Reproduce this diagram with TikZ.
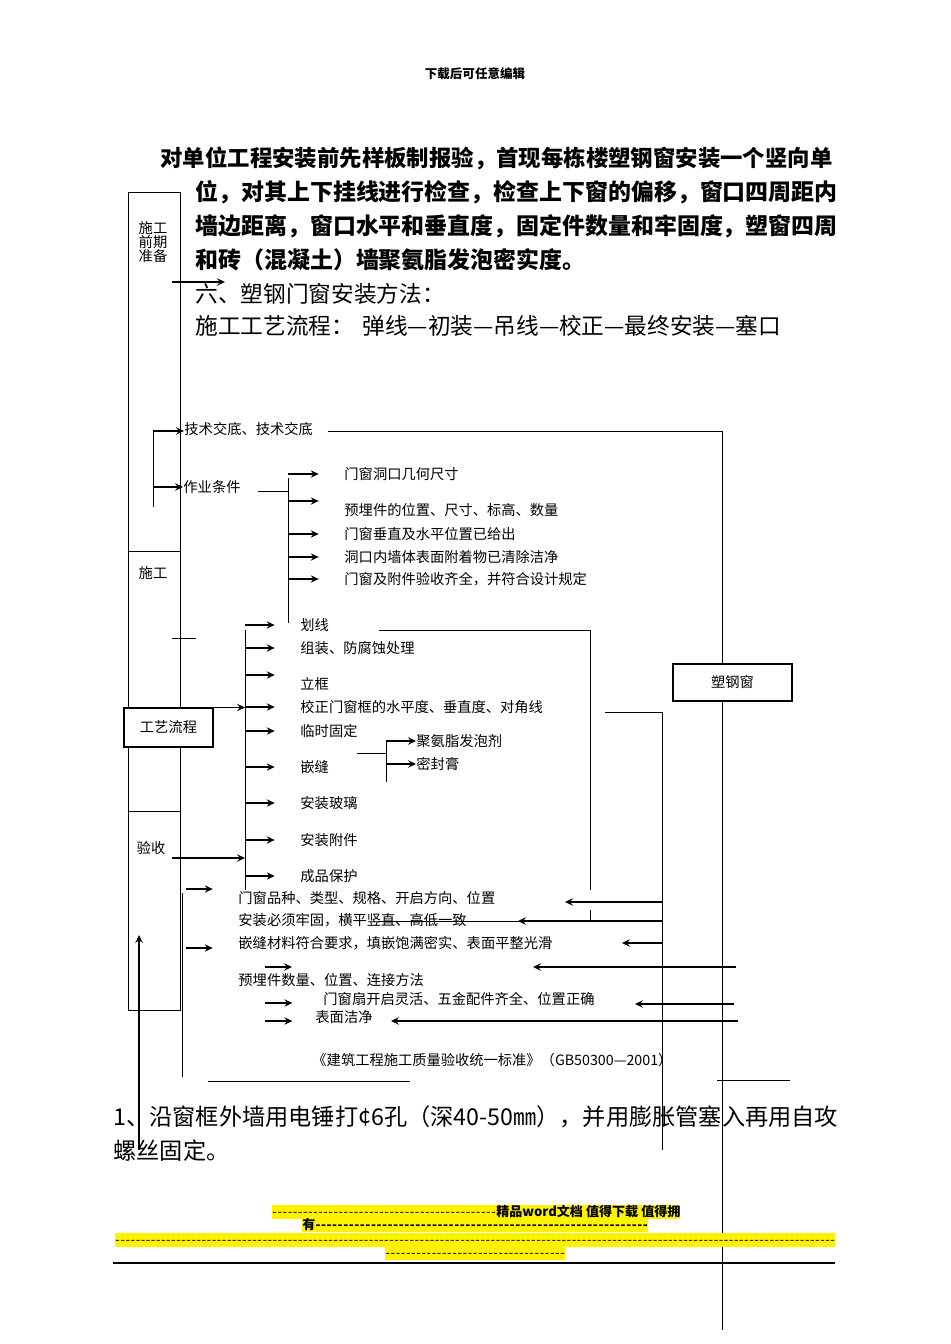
\documentclass[tikz,border=0pt]{standalone}
\usepackage{fontspec}
\usepackage{tikz}
\usetikzlibrary{arrows.meta}
\newfontfamily\cjk{Noto Sans CJK SC}
\newcommand{\dashfill}{\xleaders\hbox{-\kern0.4pt}\hfill}

\begin{document}
\begin{tikzpicture}[
  x=0.75pt, y=-0.75pt, line width=0.7pt,
  arr/.style={-{Stealth[length=6pt,width=5.6pt,inset=2.2pt]}, line width=0.8pt},
  gaparr/.style={arr, shorten >=19pt},
  lbl/.style={anchor=west, inner sep=0pt, font=\cjk\fontsize{10.7}{12}\selectfont},
  body/.style={anchor=west, inner sep=0pt, font=\cjk\fontsize{17}{20}\selectfont},
  bodybf/.style={body, font=\cjk\bfseries\fontsize{17}{20}\selectfont},
  stagebox/.style={draw, fill=white, line width=0.8pt, inner sep=0pt, font=\cjk\fontsize{10.7}{12}\selectfont},
  hilite/.style={anchor=west, fill=yellow, inner sep=0pt, minimum height=10.4pt, text height=7.6pt, text depth=1.6pt, font=\cjk\fontsize{9.8}{10}\selectfont}
]
\useasboundingbox (0,0) rectangle (950,1344);

% Page header and running text
\node[font=\cjk\bfseries\fontsize{9.4}{11}\selectfont] (hdr) at (475,74) {下载后可任意编辑};
\node[bodybf, font=\cjk\bfseries\fontsize{16.8}{20}\selectfont] (p1) at (160,158) {对单位工程安装前先样板制报验，首现每栋楼塑钢窗安装一个竖向单};
\node[bodybf, font=\cjk\bfseries\fontsize{17.2}{20}\selectfont] (p2) at (195,192) {位，对其上下挂线进行检查，检查上下窗的偏移，窗口四周距内};
\node[bodybf, font=\cjk\bfseries\fontsize{17.2}{20}\selectfont] (p3) at (195,226) {墙边距离，窗口水平和垂直度，固定件数量和牢固度，塑窗四周};
\node[bodybf, font=\cjk\bfseries\fontsize{17.2}{20}\selectfont] (p4) at (195,260) {和砖（混凝土）墙聚氨脂发泡密实度。};
\node[body] (p5) at (195,294) {六、塑钢门窗安装方法：};
\node[body] (p6) at (195,326) {施工工艺流程：};
\node[body] (p6b) at (362,326) {弹线—初装—吊线—校正—最终安装—塞口};

% Stage column
\draw (128,192) rectangle (180,1010);
\draw (128,551) -- (180,551);
\draw (128,811) -- (180,811);
\node[lbl, anchor=center, align=center, font=\cjk\fontsize{10.7}{10.5}\selectfont] (prep) at (153,242) {施工\\前期\\准备};
\node[lbl, anchor=center] (build) at (153,573) {施工};
\node[lbl, anchor=center] (check) at (151,848) {验收};
\node[stagebox, minimum width=66.75pt, minimum height=29.25pt] (flow) at (168.5,727.5) {工艺流程};

\coordinate (six-tail) at (172,282);
\draw[arr] (six-tail) -- (225,282);
\draw (172,638) -- (196,638);

% Preparation
\node[lbl] (jishu) at (184,429) {技术交底、技术交底};
\node[lbl] (zuoye) at (183,487) {作业条件};
\coordinate (prep-top) at (153,431);
\coordinate (prep-bot) at (153,507);
\draw (prep-top) -- (prep-bot);
\draw[arr] (prep-top) -- (prep-top -| jishu.west);
\draw[arr] (prep-top |- zuoye.west) -- (zuoye.west);

\node[lbl] (c1) at (344,474) {门窗洞口几何尺寸};
\node[lbl] (c2) at (344,510) {预埋件的位置、尺寸、标高、数量};
\node[lbl] (c3) at (344,534) {门窗垂直及水平位置已给出};
\node[lbl] (c4) at (344,557) {洞口内墙体表面附着物已清除洁净};
\node[lbl] (c5) at (344,579) {门窗及附件验收齐全，并符合设计规定};
\coordinate (cond-top) at (288,478);
\coordinate (cond-mid) at (288,491);
\coordinate (cond-bot) at (288,623);
\draw[shorten <=13pt] (zuoye.east |- cond-mid) -- (cond-mid);
\draw (cond-top) -- (cond-bot);
\draw[gaparr] (cond-top |- c1.west) -- (c1.west);
\coordinate (c2-tail) at (288,501);
\draw[gaparr] (c2-tail) -- (c2-tail -| c2.west);
\draw[gaparr] (cond-top |- c3.west) -- (c3.west);
\draw[gaparr] (cond-top |- c4.west) -- (c4.west);
\draw[gaparr] (cond-top |- c5.west) -- (c5.west);

% Process steps
\node[lbl] (s1) at (300,625) {划线};
\node[lbl] (s2) at (300,648) {组装、防腐蚀处理};
\node[lbl] (s3) at (300,684) {立框};
\node[lbl] (s4) at (300,707) {校正门窗框的水平度、垂直度、对角线};
\node[lbl] (s5) at (300,731) {临时固定};
\node[lbl] (s6) at (300,767) {嵌缝};
\node[lbl] (s7) at (300,803) {安装玻璃};
\node[lbl] (s8) at (300,840) {安装附件};
\node[lbl] (s9) at (300,876) {成品保护};
\node[lbl] (foam) at (416,741) {聚氨脂发泡剂};
\node[lbl] (seal) at (416,764) {密封膏};
\coordinate (work-top) at (245,630);
\coordinate (work-bot) at (245,890);
\draw (work-top) -- (work-bot);
\draw[gaparr] (work-top |- s1.west) -- (s1.west);
\draw[gaparr] (work-top |- s2.west) -- (s2.west);
\coordinate (s3-tail) at (245,675);
\draw[gaparr] (s3-tail) -- (s3-tail -| s3.west);
\draw[gaparr] (work-top |- s4.west) -- (s4.west);
\draw[gaparr] (work-top |- s5.west) -- (s5.west);
\draw[gaparr] (work-top |- s6.west) -- (s6.west);
\draw[gaparr] (work-top |- s7.west) -- (s7.west);
\draw[gaparr] (work-top |- s8.west) -- (s8.west);
\draw[gaparr] (work-top |- s9.west) -- (s9.west);
\draw[arr] (flow.north east) -- (flow.north east -| work-top);
\coordinate (check-tail) at (172,858);
\draw[arr] (check-tail) -- (check-tail -| work-top);

\coordinate (seam-top) at (386,742);
\coordinate (seam-mid) at (386,753);
\coordinate (seam-bot) at (386,782);
\draw[shorten <=21pt] (s6.east |- seam-mid) -- (seam-mid);
\draw (seam-top) -- (seam-bot);
\draw[arr] (seam-top |- foam.west) -- (foam.west);
\draw[arr] (seam-top |- seal.west) -- (seal.west);

\coordinate (mark-top) at (590,630);
\coordinate (mark-bot) at (590,890);
\draw[shorten <=37pt] (s1.east |- mark-top) -- (mark-top) -- (mark-bot);
\draw (590,910) -- (590,921) -- (378,921);

% Window and rails
\node[stagebox, minimum width=89.25pt, minimum height=27.75pt] (sgw) at (732.5,682.5) {塑钢窗};
\coordinate (rail-top) at (722,431);
\coordinate (rail-bot) at (722,1330);
\draw[shorten <=11pt] (jishu.east |- rail-top) -- (rail-top) -- (sgw.north -| rail-top);
\draw (sgw.south -| rail-top) -- (rail-bot);
\draw (717,1080) -- (790,1080);

% Acceptance
\node[lbl] (a1) at (238,898) {门窗品种、类型、规格、开启方向、位置};
\node[lbl] (a2) at (238,920) {安装必须牢固，横平竖直、高低一致};
\node[lbl] (a3) at (238,943) {嵌缝材料符合要求，填嵌饱满密实、表面平整光滑};
\node[lbl] (a4) at (238,980) {预埋件数量、位置、连接方法};
\node[lbl] (a5) at (323,999) {门窗扇开启灵活、五金配件齐全、位置正确};
\node[lbl] (a6) at (315,1017) {表面洁净};
\node[lbl] (std) at (312,1060) {《建筑工程施工质量验收统一标准》（GB50300—2001）};
\draw (182,893) -- (182,1077);
\coordinate (a1-tail) at (186,889);
\draw[gaparr] (a1-tail) -- (a1-tail -| a1.west);
\coordinate (a3-tail) at (186,948);
\draw[gaparr] (a3-tail) -- (a3-tail -| a3.west);
\coordinate (a4-tail) at (265,967);
\draw[arr] (a4-tail) -- (292,967);
\coordinate (a5-tail) at (265,1003);
\draw[arr, shorten >=23pt] (a5-tail) -- (a5-tail -| a5.west);
\coordinate (a6-tail) at (265,1021);
\draw[arr, shorten >=17pt] (a6-tail) -- (a6-tail -| a6.west);
\draw (208,1081) -- (410,1081);
\draw[arr] (139,1150) -- (139,935);

\coordinate (chk-top) at (662,712);
\coordinate (chk-bot) at (662,1150);
\draw[shorten <=46pt] (s4.east |- chk-top) -- (chk-top) -- (chk-bot);
\draw[arr] (chk-top |- 0,902) -- (565,902);
\draw[arr] (chk-top |- 0,921) -- (518,921);
\draw[arr] (chk-top |- 0,943) -- (622,943);
\draw[arr] (736,967) -- (533,967);
\draw[arr] (734,1004) -- (635,1004);
\draw[arr] (738,1021) -- (391,1021);

% Method text
\node[body, font=\cjk\fontsize{17.4}{20}\selectfont] (m1) at (113,1117) {1、沿窗框外墙用电锤打¢6孔（深40-50㎜），并用膨胀管塞入再用自攻};
\node[body, font=\cjk\fontsize{17.4}{20}\selectfont] (m2) at (113,1151) {螺丝固定。};

% Footer
\node[hilite] (fa) at (272,1212) {\hbox to 306pt{\dashfill\bfseries 精品word文档 值得下载 值得拥}};
\node[hilite] (fb) at (302,1225.5) {\hbox to 259.5pt{\bfseries 有\dashfill}};
\node[hilite] (fc) at (115,1240) {\hbox to 540pt{\dashfill}};
\node[hilite] (fd) at (385,1253.5) {\hbox to 135pt{\dashfill}};
\draw[line width=1.1pt] (113,1263) -- (835,1263);
\end{tikzpicture}
\end{document}
